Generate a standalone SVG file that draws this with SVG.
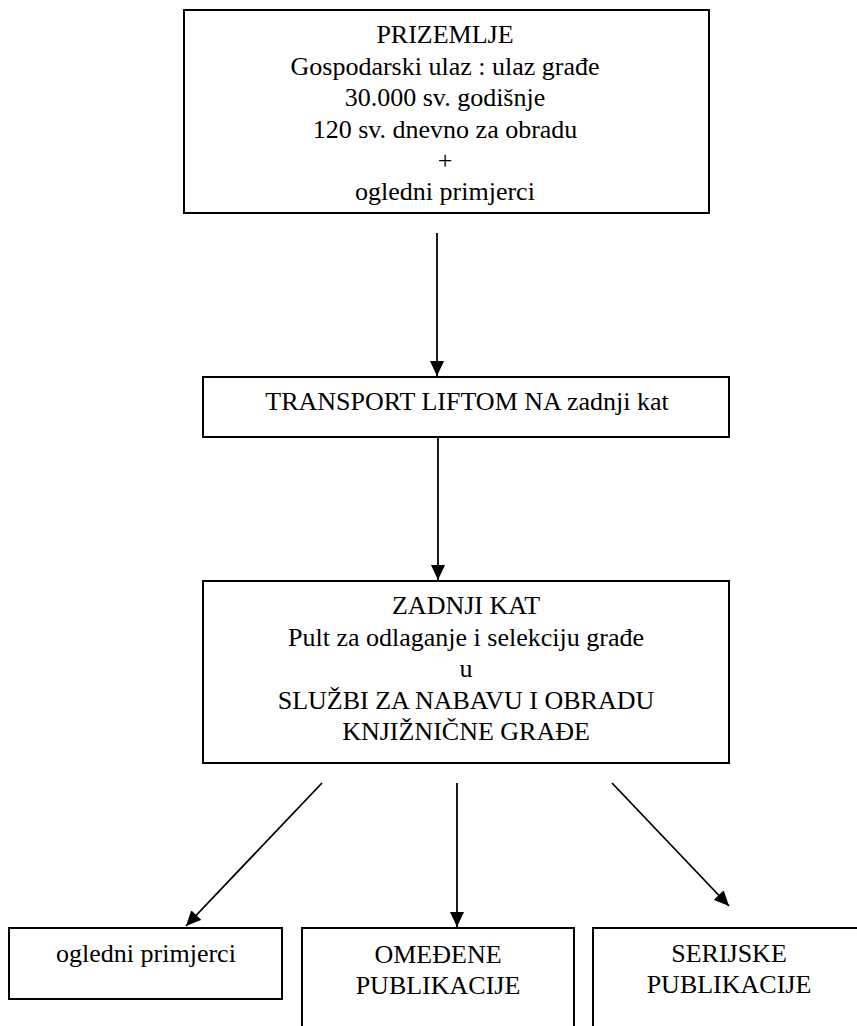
<svg xmlns="http://www.w3.org/2000/svg" width="857" height="1026" viewBox="0 0 857 1026">
<style>
.box{fill:#fff;stroke:#000;stroke-width:2}
.t{font-family:"Liberation Serif","Times New Roman",serif;font-size:26px;fill:#000;text-anchor:middle}
.c{stroke:#000;stroke-width:1.8;fill:none;marker-end:url(#ah)}
</style>
<defs>
<marker id="ah" markerUnits="userSpaceOnUse" markerWidth="15" markerHeight="14" viewBox="0 0 10 10" refX="10" refY="5" orient="auto" preserveAspectRatio="none">
<path d="M0,0 L10,5 L0,10 Z" fill="#000"/>
</marker>
</defs>
<rect width="857" height="1026" fill="#fff"/>
<g id="prizemlje">
<rect class="box" x="184" y="10" width="525" height="203"/>
<text class="t" x="445" y="43">PRIZEMLJE</text>
<text class="t" x="445" y="74.5">Gospodarski ulaz : ulaz građe</text>
<text class="t" x="445" y="106">30.000 sv. godišnje</text>
<text class="t" x="445" y="137.5">120 sv. dnevno za obradu</text>
<text class="t" x="445" y="169">+</text>
<text class="t" x="445" y="200">ogledni primjerci</text>
</g>
<g id="transport">
<rect class="box" x="203" y="377" width="526" height="60"/>
<text class="t" x="467" y="410">TRANSPORT LIFTOM NA zadnji kat</text>
</g>
<g id="zadnji">
<rect class="box" x="203" y="581" width="526" height="182"/>
<text class="t" x="466" y="614">ZADNJI KAT</text>
<text class="t" x="466" y="645.5">Pult za odlaganje i selekciju građe</text>
<text class="t" x="466" y="677">u</text>
<text class="t" x="466" y="708.5">SLUŽBI ZA NABAVU I OBRADU</text>
<text class="t" x="466" y="740">KNJIŽNIČNE GRAĐE</text>
</g>
<g id="ogledni">
<rect class="box" x="9" y="928" width="273" height="71"/>
<text class="t" x="146" y="962">ogledni primjerci</text>
</g>
<g id="omedjene">
<rect class="box" x="302" y="928" width="272" height="110"/>
<text class="t" x="438" y="963">OMEĐENE</text>
<text class="t" x="438" y="994">PUBLIKACIJE</text>
</g>
<g id="serijske">
<rect class="box" x="593" y="928" width="272" height="110"/>
<text class="t" x="729" y="962">SERIJSKE</text>
<text class="t" x="729" y="993">PUBLIKACIJE</text>
</g>
<g id="connectors">
<line class="c" x1="437" y1="233" x2="437" y2="376"/>
<line class="c" x1="438" y1="437" x2="438" y2="580"/>
<line class="c" x1="322" y1="783" x2="186" y2="926"/>
<line class="c" x1="457" y1="783" x2="457" y2="927"/>
<line class="c" x1="612" y1="783" x2="729" y2="906"/>
</g>
</svg>
